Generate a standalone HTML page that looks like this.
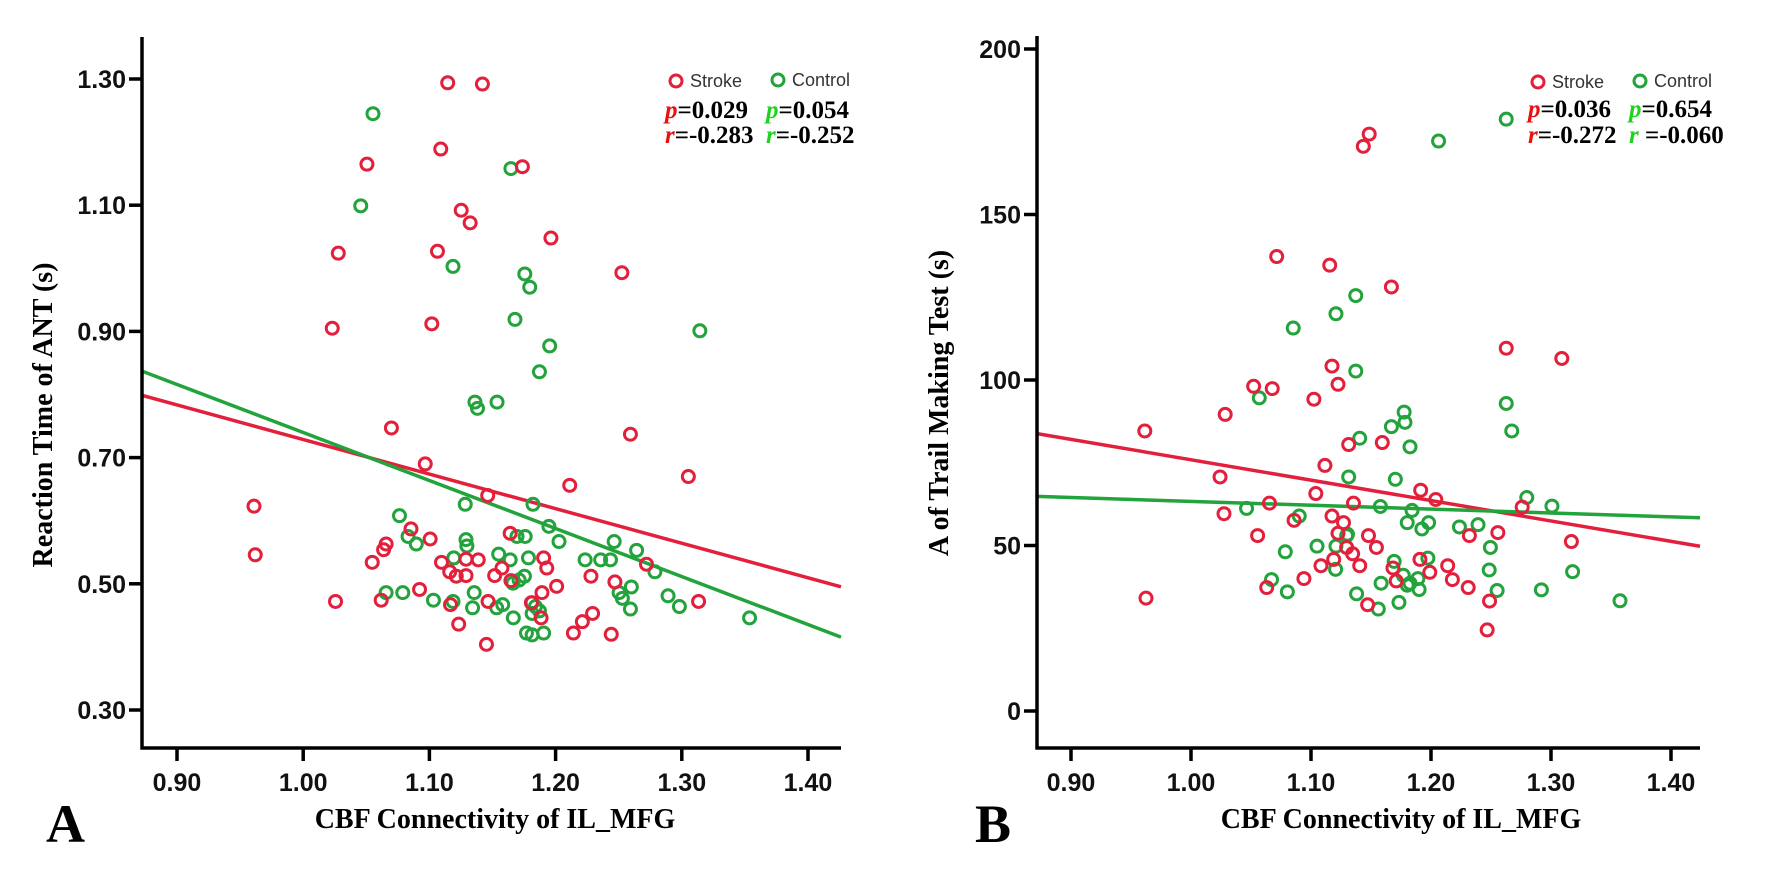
<!DOCTYPE html>
<html><head><meta charset="utf-8"><style>
html,body{margin:0;padding:0;background:#fff;}
svg{display:block;}
.tk{font-family:"Liberation Sans",Arial,sans-serif;font-size:25px;font-weight:bold;fill:#111;}
.ttl{font-family:"Liberation Serif","Times New Roman",serif;font-size:28px;font-weight:bold;fill:#000;}
.lg{font-family:"Liberation Sans",Arial,sans-serif;font-size:18px;fill:#333;}
.st{font-family:"Liberation Serif","Times New Roman",serif;font-size:25px;font-weight:bold;fill:#000;}
</style></head><body>
<svg id="fig" width="1772" height="869" viewBox="0 0 1772 869" xmlns="http://www.w3.org/2000/svg">
<rect x="0" y="0" width="1772" height="869" fill="#fff"/>
<g id="pa"></g>
<g id="pb"></g>
</svg>
<script>
// ---------- Panel A data ----------
const aXTicks = [0.90, 1.00, 1.10, 1.20, 1.30, 1.40];
const aXTickLabels = ["0.90","1.00","1.10","1.20","1.30","1.40"];
const aYTicks = [0.30, 0.50, 0.70, 0.90, 1.10, 1.30];
const aYTickLabels = ["0.30","0.50","0.70","0.90","1.10","1.30"];
const aStrokeX = [1.1145,1.142,1.109,1.0505,1.1737,1.1252,1.1323,1.1963,1.0278,1.1064,1.2525,1.023,1.1019,1.0699,1.2593,1.0967,1.3052,1.2112,1.1462,0.961,0.962,1.0854,1.1006,1.0657,1.0637,1.164,1.0547,1.1096,1.129,1.1387,1.1161,1.1213,1.129,1.1517,1.1575,1.1905,1.193,1.228,1.247,1.272,1.0256,1.0618,1.0922,1.1167,1.1465,1.1892,1.2008,1.1885,1.1232,1.2141,1.2212,1.2293,1.2441,1.3133,1.1452,1.1646,1.1808];
const aStrokeY = [1.294,1.292,1.189,1.165,1.161,1.092,1.072,1.048,1.024,1.027,0.993,0.905,0.912,0.747,0.737,0.690,0.670,0.656,0.640,0.623,0.546,0.587,0.571,0.563,0.554,0.580,0.534,0.534,0.539,0.538,0.519,0.512,0.513,0.513,0.525,0.541,0.525,0.512,0.503,0.531,0.472,0.474,0.491,0.467,0.472,0.486,0.496,0.446,0.436,0.422,0.440,0.453,0.420,0.472,0.404,0.505,0.470];
const aControlX = [1.0553,1.1646,1.0456,1.1187,1.1756,1.1795,1.1678,1.3143,1.1953,1.1872,1.1361,1.1381,1.1536,1.1284,1.1821,1.0763,1.0831,1.0896,1.129,1.1297,1.1694,1.1759,1.1947,1.2027,1.2464,1.2642,1.2787,1.2234,1.2357,1.2435,1.1193,1.1549,1.164,1.1785,1.1662,1.1711,1.1753,1.0657,1.0789,1.1032,1.1187,1.1355,1.1342,1.1533,1.1581,1.1665,1.1814,1.184,1.1872,1.1814,1.2503,1.26,1.2529,1.2593,1.2891,1.2981,1.3537,1.1769,1.1814,1.1905];
const aControlY = [1.245,1.158,1.099,1.003,0.991,0.970,0.919,0.901,0.877,0.836,0.788,0.778,0.788,0.626,0.626,0.608,0.575,0.563,0.570,0.560,0.575,0.575,0.591,0.567,0.567,0.553,0.519,0.538,0.538,0.538,0.541,0.547,0.538,0.541,0.501,0.506,0.512,0.486,0.486,0.474,0.472,0.486,0.462,0.462,0.467,0.446,0.470,0.464,0.457,0.453,0.486,0.495,0.477,0.460,0.481,0.464,0.446,0.422,0.419,0.422];
const aFitIntercept = [1.2767, 1.5008]; // stroke, control
const aFitSlope = [-0.548, -0.761];

// ---------- Panel B data ----------
const bXTicks = [0.90, 1.00, 1.10, 1.20, 1.30, 1.40];
const bXTickLabels = ["0.90","1.00","1.10","1.20","1.30","1.40"];
const bYTicks = [0, 50, 100, 150, 200];
const bYTickLabels = ["0","50","100","150","200"];
const bStrokeX = [0.9615,0.9625,1.0285,1.0242,1.0275,1.0522,1.0677,1.0714,1.0555,1.0654,1.0631,1.0859,1.0941,1.1024,1.104,1.1116,1.1156,1.1175,1.1225,1.1175,1.1225,1.1189,1.1314,1.1354,1.1271,1.1297,1.1347,1.1406,1.1083,1.1436,1.1485,1.1479,1.1545,1.1594,1.167,1.1683,1.1472,1.1914,1.204,1.1908,1.199,1.2139,1.2178,1.231,1.2488,1.2557,1.232,1.2468,1.171,1.2627,1.309,1.317,1.276];
const bStrokeY = [84.6,34.1,89.6,70.7,59.6,98.1,97.4,137.3,53.0,62.8,37.3,57.6,40.0,94.2,65.7,74.2,134.7,104.2,98.7,58.9,53.7,45.8,80.5,62.8,56.9,49.4,47.5,43.9,43.9,170.6,174.3,53.0,49.4,81.1,128.1,43.2,32.1,66.7,63.9,45.8,41.9,43.9,39.7,37.3,33.2,53.9,53.0,24.5,39.3,109.6,106.5,51.2,61.6];
const bControlX = [1.0569,1.0463,1.0671,1.0786,1.0803,1.0852,1.0902,1.105,1.1205,1.1208,1.1208,1.1304,1.1314,1.1373,1.1373,1.1406,1.138,1.1561,1.1578,1.1584,1.167,1.1703,1.1776,1.1783,1.1825,1.1802,1.1842,1.1733,1.1693,1.1769,1.1825,1.1891,1.1802,1.1901,1.1924,1.198,1.1974,1.2063,1.2237,1.2392,1.2485,1.2495,1.2551,1.2627,1.2627,1.2673,1.2798,1.1297,1.3008,1.318,1.292,1.3575];
const bControlY = [94.6,61.2,39.7,48.1,36.0,115.7,58.9,49.8,42.8,120.0,49.8,53.4,70.7,125.5,102.7,82.4,35.4,30.8,61.8,38.6,85.9,70.0,90.3,87.2,79.8,56.9,60.6,32.8,45.2,41.0,38.6,40.0,38.0,36.7,55.0,56.9,46.2,172.2,55.6,56.3,42.6,49.4,36.4,178.8,92.9,84.6,64.5,53.0,61.9,42.1,36.6,33.3];
const bFitIntercept = [137.5, 75.03];
const bFitSlope = [-61.6, -11.7];

const NS = "http://www.w3.org/2000/svg";
const RED = "#e3203c", GREEN = "#22a33c";
function mk(tag, attrs, parent){
  const e = document.createElementNS(NS, tag);
  for (const k in attrs) e.setAttribute(k, attrs[k]);
  parent.appendChild(e);
  return e;
}

function drawPanel(g, cfg){
  const xs = v => cfg.x0 + (v - cfg.xv0) * cfg.xk;
  const ys = v => cfg.y0 - (v - cfg.yv0) * cfg.yk;
  const xMin = cfg.xv0 + (cfg.left - cfg.x0) / cfg.xk;
  const xMax = cfg.xv0 + (cfg.right - cfg.x0) / cfg.xk;

  const cols = [RED, GREEN];
  const nms = ["stroke-fit-line","control-fit-line"];
  for (let i = 0; i < 2; i++){
    const ln = mk("line", {x1: xs(xMin), y1: ys(cfg.fi[i] + cfg.fs[i]*xMin), x2: xs(xMax), y2: ys(cfg.fi[i] + cfg.fs[i]*xMax), stroke: cols[i], "stroke-width": 3.5}, g);
    
    
  }
  const sets = [[cfg.cx, cfg.cy, GREEN, "control-point"], [cfg.sx, cfg.sy, RED, "stroke-point"]];
  for (const s of sets){
    for (let i = 0; i < s[0].length; i++){
      const c = mk("circle", {cx: xs(s[0][i]), cy: ys(s[1][i]), r: 6, fill: "none", stroke: s[2], "stroke-width": 3}, g);
      
      
    }
  }
  const ya = mk("line", {x1: cfg.left, y1: cfg.top, x2: cfg.left, y2: cfg.bottom + 1.5, stroke: "#000", "stroke-width": 3.5}, g);
  
  
  const xa = mk("line", {x1: cfg.left - 1.5, y1: cfg.bottom, x2: cfg.right, y2: cfg.bottom, stroke: "#000", "stroke-width": 3.5}, g);
  
  
  for (let i = 0; i < cfg.xt.length; i++){
    const x = xs(cfg.xt[i]);
    const t = mk("line", {x1: x, y1: cfg.bottom, x2: x, y2: cfg.bottom + 13, stroke: "#000", "stroke-width": 3.5}, g);
    
    
    const l = mk("text", {x: x, y: cfg.bottom + 43, "text-anchor": "middle", class: "tk"}, g);
    l.textContent = cfg.xtl[i];
    
    
  }
  for (let i = 0; i < cfg.yt.length; i++){
    const y = ys(cfg.yt[i]);
    const t = mk("line", {x1: cfg.left - 13, y1: y, x2: cfg.left, y2: y, stroke: "#000", "stroke-width": 3.5}, g);
    
    
    const l = mk("text", {x: cfg.left - 16, y: y + 9, "text-anchor": "end", class: "tk"}, g);
    l.textContent = cfg.ytl[i];
    
    
  }
  const xt = mk("text", {x: cfg.xTitleX, y: 828, "text-anchor": "middle", class: "ttl"}, g);
  xt.textContent = "CBF Connectivity of IL_MFG";
  
  
  const yt = mk("text", {x: 0, y: 0, "text-anchor": "middle", class: "ttl", transform: "translate(" + (cfg.yTitleX + 10) + "," + cfg.yTitleY + ") rotate(-90)"}, g);
  yt.textContent = cfg.yTitle;
  
  
  const pl = mk("text", {x: cfg.letterX, y: 842, class: "ttl", style: "font-size:54px"}, g);
  pl.textContent = cfg.letter;
  
  

  const L = cfg.leg;
  const c1 = mk("circle", {cx: L.c1, cy: L.cy, r: 6, fill: "none", stroke: RED, "stroke-width": 3}, g);
  
  
  const t1 = mk("text", {x: L.c1 + 14, y: L.cy + 6, class: "lg"}, g);
  t1.textContent = "Stroke";
  
  
  const c2 = mk("circle", {cx: L.c2, cy: L.cy - 1, r: 6, fill: "none", stroke: GREEN, "stroke-width": 3}, g);
  
  
  const t2 = mk("text", {x: L.c2 + 14, y: L.cy + 5, class: "lg"}, g);
  t2.textContent = "Control";
  
  
  const rows = [["p", L.p1, L.p2, L.pb], ["r", L.r1, L.r2, L.rb]];
  for (const r of rows){
    const a = mk("text", {x: L.s1, y: r[3], class: "st"}, g);
    a.innerHTML = '<tspan font-style="italic" fill="#e81010">' + r[0] + '</tspan>' + r[1];
    
    
    const b = mk("text", {x: L.s2, y: r[3], class: "st"}, g);
    b.innerHTML = '<tspan font-style="italic" fill="#1ed21e">' + r[0] + '</tspan>' + r[2];
    
    
  }
}

drawPanel(document.getElementById('pa'), {
  x0: 177, xv0: 0.9, xk: 1262, y0: 710, yv0: 0.30, yk: 631,
  left: 142, right: 841, top: 37, bottom: 748,
  xt: aXTicks, xtl: aXTickLabels, yt: aYTicks, ytl: aYTickLabels,
  sx: aStrokeX, sy: aStrokeY, cx: aControlX, cy: aControlY,
  fi: aFitIntercept, fs: aFitSlope,
  xTitleX: 495, yTitleX: 42, yTitleY: 415, yTitle: "Reaction Time of ANT (s)",
  letter: "A", letterX: 46,
  leg: {c1: 676, c2: 778, cy: 81, s1: 665, s2: 766, pb: 118, rb: 143,
        p1: "=0.029", p2: "=0.054", r1: "=-0.283", r2: "=-0.252"}
});
drawPanel(document.getElementById('pb'), {
  x0: 1071, xv0: 0.9, xk: 1200, y0: 711, yv0: 0, yk: 3.31,
  left: 1037, right: 1700, top: 36, bottom: 748,
  xt: bXTicks, xtl: bXTickLabels, yt: bYTicks, ytl: bYTickLabels,
  sx: bStrokeX, sy: bStrokeY, cx: bControlX, cy: bControlY,
  fi: bFitIntercept, fs: bFitSlope,
  xTitleX: 1401, yTitleX: 938, yTitleY: 403, yTitle: "A of Trail Making Test (s)",
  letter: "B", letterX: 975,
  leg: {c1: 1538, c2: 1640, cy: 82, s1: 1528, s2: 1629, pb: 117, rb: 143,
        p1: "=0.036", p2: "=0.654", r1: "=-0.272", r2: " =-0.060"}
});
</script>
</body></html>
